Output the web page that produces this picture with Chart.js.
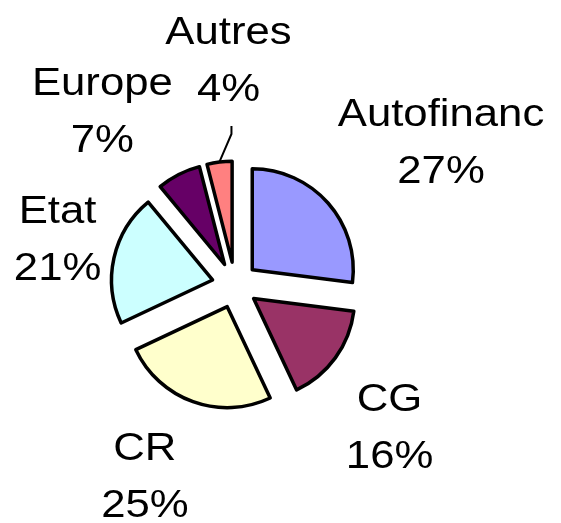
<!DOCTYPE html>
<html>
<head>
<meta charset="utf-8">
<script src="https://cdn.jsdelivr.net/npm/chart.js@4/dist/chart.umd.min.js"></script>
<style>
    html, body { margin: 0; padding: 0; background: #ffffff; }
    #wrap { width: 561px; height: 523px; }
</style>
</head>
<body>
<div id="wrap"><canvas id="pieChart" width="561" height="523"></canvas></div>
<script>
// Data (percent of total)
const categories = ['Autofinanc', 'CG', 'CR', 'Etat', 'Europe', 'Autres'];
const shares = [27, 16, 25, 21, 7, 4];
const sliceColors = ['#9999FF', '#993366', '#FFFFCC', '#CCFFFF', '#660066', '#FF8080'];

const FONT = '38px "Liberation Sans", Arial, sans-serif';
const STRETCH = 1.15;     // the original text is a bit wider than normal
const LINE = 57;          // distance between the two label lines

// Pull every slice out from the centre (Excel "exploded" pie)
const explodePlugin = {
    id: 'explode',
    beforeDatasetDraw(chart, args, opts) {
        const ctx = chart.ctx;
        args.meta.data.forEach(arc => {
            const mid = (arc.startAngle + arc.endAngle) / 2;
            ctx.save();
            ctx.translate(Math.cos(mid) * opts.distance, Math.sin(mid) * opts.distance);
            arc.draw(ctx);
            ctx.restore();
        });
        return false;
    }
};

function drawStretched(ctx, text, x, y) {
    ctx.save();
    ctx.translate(x, y);
    ctx.scale(STRETCH, 1);
    ctx.fillText(text, 0, 0);
    ctx.restore();
}

function clamp(v) {
    return Math.max(-1, Math.min(1, v));
}

// Two line labels (name + percent) outside each slice
const labelPlugin = {
    id: 'outsideLabels',
    afterDatasetsDraw(chart, args, opts) {
        const ctx = chart.ctx;
        const meta = chart.getDatasetMeta(0);
        const explode = chart.options.plugins.explode.distance;
        const total = shares.reduce((a, b) => a + b, 0);

        ctx.save();
        ctx.font = FONT;
        ctx.fillStyle = '#000000';
        ctx.textAlign = 'center';
        ctx.textBaseline = 'alphabetic';

        meta.data.forEach((arc, i) => {
            const mid = (arc.startAngle + arc.endAngle) / 2;
            const dx = Math.cos(mid);
            const dy = Math.sin(mid);
            const name = categories[i];
            const pct = Math.round(shares[i] / total * 100) + '%';
            const halfW = Math.max(ctx.measureText(name).width, ctx.measureText(pct).width) * STRETCH / 2;

            let cx, cy;
            if (shares[i] / total < 0.05) {
                // small slice: label lifted away with a leader line
                const ex = arc.x + dx * (explode + arc.outerRadius);
                const ey = arc.y + dy * (explode + arc.outerRadius);
                const elbowX = ex + opts.leader.dx;
                const elbowY = ey + opts.leader.dy;
                const topY = elbowY - opts.leader.rise;
                ctx.save();
                ctx.strokeStyle = '#000000';
                ctx.lineWidth = 2;
                ctx.beginPath();
                ctx.moveTo(ex, ey);
                ctx.lineTo(elbowX, elbowY);
                ctx.lineTo(elbowX, topY);
                ctx.stroke();
                ctx.restore();
                cx = elbowX - 3;
                cy = topY - 10 - LINE;
            } else {
                const reach = explode + arc.outerRadius + opts.gap;
                cx = arc.x + dx * reach + halfW * clamp(dx * 3);
                cy = arc.y + dy * reach + LINE * clamp(dy * 1.7) + 4;
            }
            drawStretched(ctx, name, cx, cy - 15);
            drawStretched(ctx, pct, cx, cy + 42);
        });
        ctx.restore();
    }
};

const ctx = document.getElementById('pieChart').getContext('2d');
const pieChart = new Chart(ctx, {
    type: 'pie',
    data: {
        labels: categories,
        datasets: [{
            data: shares,
            backgroundColor: sliceColors,
            borderColor: '#000000',
            borderWidth: 3.5,
            borderJoinStyle: 'round'
        }]
    },
    options: {
        responsive: false,
        animation: false,
        radius: 101,
        layout: {
            padding: { left: 0, right: 91, top: 47, bottom: 0 }
        },
        plugins: {
            legend: { display: false },
            tooltip: { enabled: false },
            explode: { distance: 23 },
            outsideLabels: {
                gap: 13,
                leader: { dx: 12, dy: -28, rise: 8 }
            }
        }
    },
    plugins: [explodePlugin, labelPlugin]
});
</script>
</body>
</html>
